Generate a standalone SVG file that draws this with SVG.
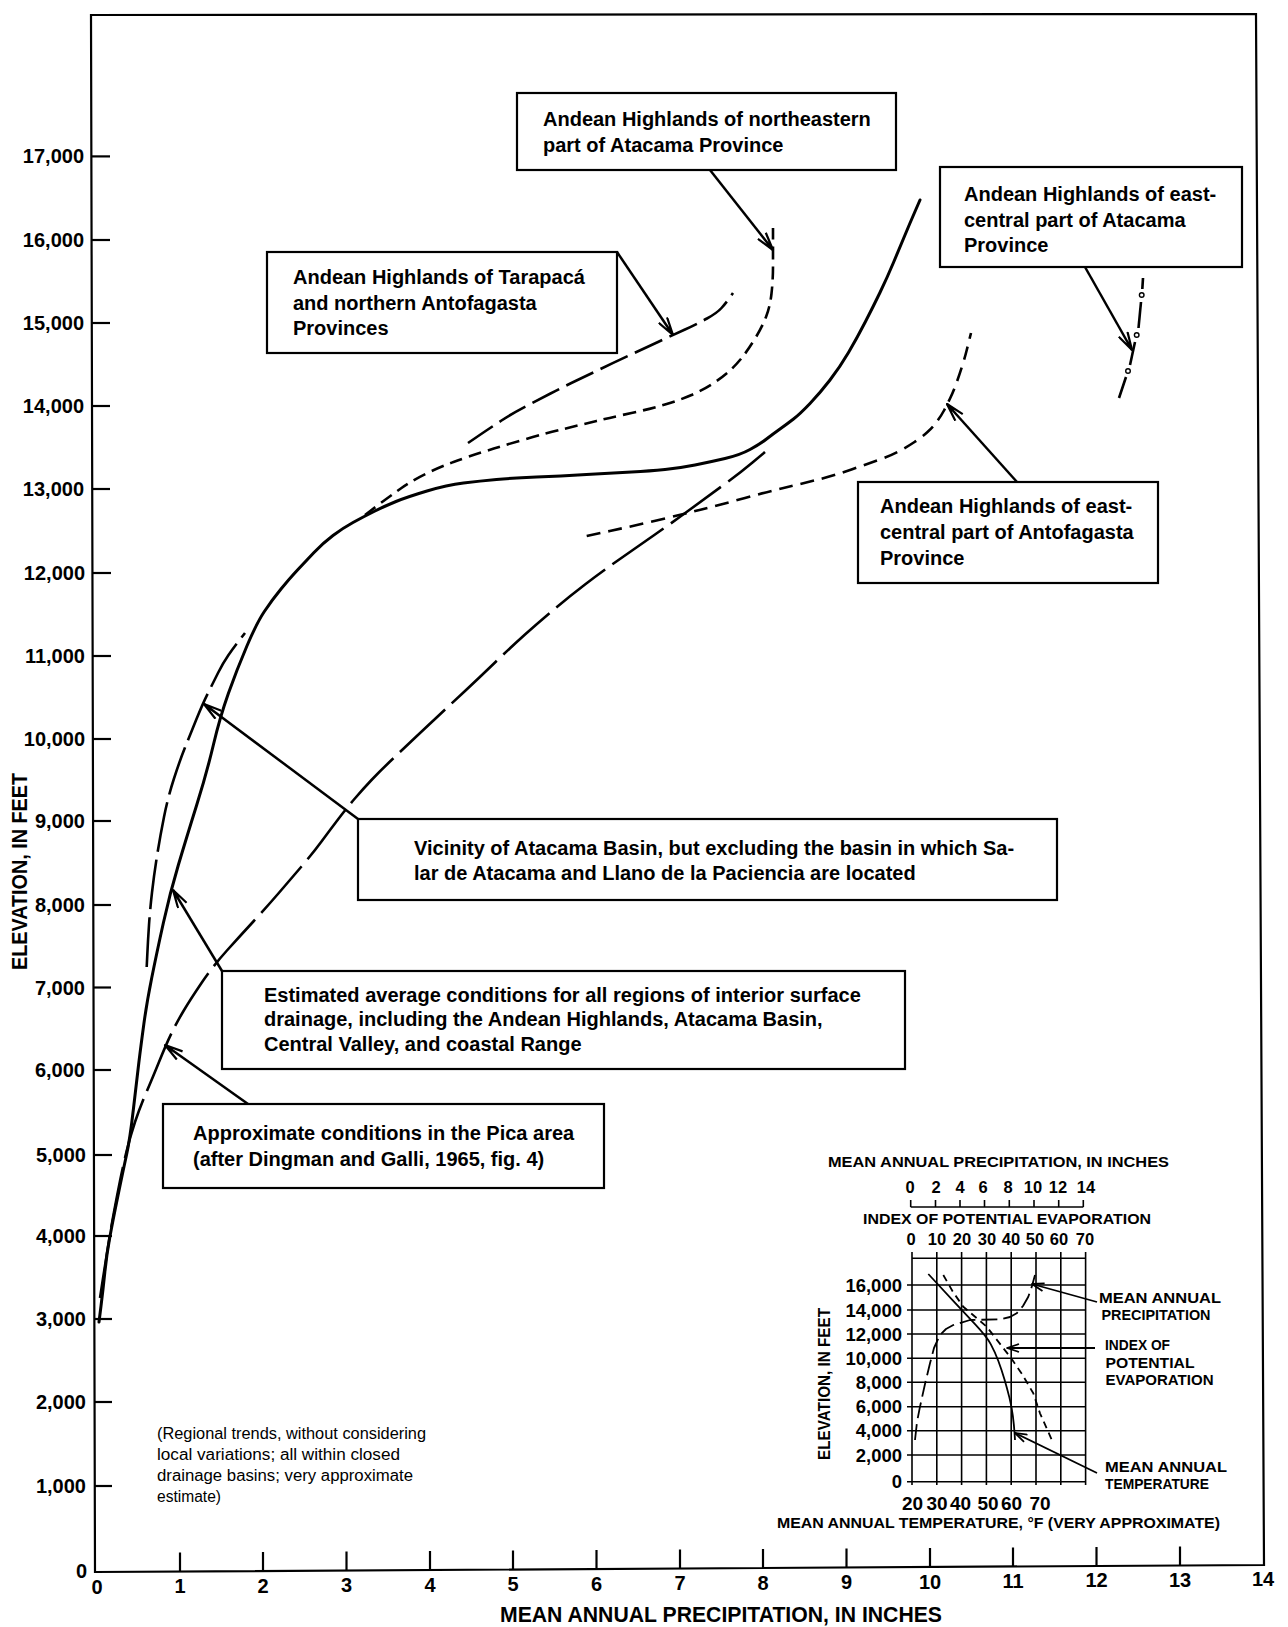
<svg xmlns="http://www.w3.org/2000/svg" width="1288" height="1627" viewBox="0 0 1288 1627">
<style>
.t{font-family:"Liberation Sans",Arial,sans-serif;font-weight:bold;fill:#000}
.b20{font-size:20px}
.n{font-family:"Liberation Sans",Arial,sans-serif;font-weight:normal;font-size:16px;fill:#000}
.box{fill:none;stroke:#000;stroke-width:2.2}
.ax{fill:none;stroke:#000;stroke-width:2.2}
.tick{stroke:#000;stroke-width:2.2}
.solid{fill:none;stroke:#000;stroke-width:3;stroke-linejoin:round;stroke-linecap:round}
.dash{fill:none;stroke:#000;stroke-width:2.6;stroke-linejoin:round}
.arr{fill:none;stroke:#000;stroke-width:2.5;marker-end:url(#ah)}
.iarr{fill:none;stroke:#000;stroke-width:1.8;marker-end:url(#ahs)}
.grid{stroke:#000;stroke-width:1.6}
.ic{fill:none;stroke:#000;stroke-width:1.8;stroke-linejoin:round}
</style>
<defs>
<marker id="ah" viewBox="0 0 20 12" refX="19" refY="6" markerWidth="20" markerHeight="12" markerUnits="userSpaceOnUse" orient="auto">
<path d="M1,1 L19,6 L1,11" fill="none" stroke="#000" stroke-width="2.2" stroke-linejoin="round"/>
<path d="M19,6 L9,3.6 L11,6 L9,8.4 Z" fill="#000"/>
</marker>
<marker id="ahs" viewBox="0 0 14 10" refX="13" refY="5" markerWidth="14" markerHeight="10" markerUnits="userSpaceOnUse" orient="auto">
<path d="M1,1 L13,5 L1,9" fill="none" stroke="#000" stroke-width="1.8" stroke-linejoin="round"/>
</marker>
</defs>
<rect width="1288" height="1627" fill="#fff"/>

<g id="frame">
<path class="ax" d="M91,15 L1256,14 L1264,1565 L95,1572 Z"/>
</g>

<g id="y-axis">
<g class="tick">
<line x1="94" y1="1486" x2="112" y2="1486"/>
<line x1="94" y1="1402" x2="112" y2="1402"/>
<line x1="94" y1="1319" x2="112" y2="1319"/>
<line x1="94" y1="1236" x2="112" y2="1236"/>
<line x1="94" y1="1155" x2="112" y2="1155"/>
<line x1="93" y1="1070" x2="111" y2="1070"/>
<line x1="93" y1="987.5" x2="111" y2="987.5"/>
<line x1="93" y1="905" x2="111" y2="905"/>
<line x1="93" y1="821" x2="111" y2="821"/>
<line x1="93" y1="739" x2="111" y2="739"/>
<line x1="93" y1="656" x2="111" y2="656"/>
<line x1="93" y1="573" x2="111" y2="573"/>
<line x1="92" y1="489" x2="110" y2="489"/>
<line x1="92" y1="406" x2="110" y2="406"/>
<line x1="92" y1="323" x2="110" y2="323"/>
<line x1="92" y1="240" x2="110" y2="240"/>
<line x1="92" y1="156.4" x2="110" y2="156.4"/>
</g>
<g class="t b20" text-anchor="end">
<text x="87" y="1578">0</text>
<text x="86" y="1493">1,000</text>
<text x="86" y="1409">2,000</text>
<text x="86" y="1326">3,000</text>
<text x="86" y="1243">4,000</text>
<text x="86" y="1162">5,000</text>
<text x="85" y="1077">6,000</text>
<text x="85" y="994.5">7,000</text>
<text x="85" y="912">8,000</text>
<text x="85" y="828">9,000</text>
<text x="85" y="746">10,000</text>
<text x="85" y="663">11,000</text>
<text x="85" y="580">12,000</text>
<text x="84" y="496">13,000</text>
<text x="84" y="413">14,000</text>
<text x="84" y="330">15,000</text>
<text x="84" y="247">16,000</text>
<text x="84" y="163.4">17,000</text>
</g>
<text class="t" font-size="22" transform="translate(27,970) rotate(-90)" textLength="197" lengthAdjust="spacingAndGlyphs">ELEVATION, IN FEET</text>
</g>

<g id="x-axis">
<g class="tick">
<line x1="180" y1="1571.5" x2="180" y2="1552.5"/>
<line x1="263" y1="1571" x2="263" y2="1552"/>
<line x1="346.5" y1="1570.5" x2="346.5" y2="1551.5"/>
<line x1="430" y1="1570" x2="430" y2="1551"/>
<line x1="513" y1="1569.5" x2="513" y2="1550.5"/>
<line x1="596.5" y1="1569" x2="596.5" y2="1550"/>
<line x1="680" y1="1568.5" x2="680" y2="1549.5"/>
<line x1="763" y1="1568" x2="763" y2="1549"/>
<line x1="846.5" y1="1567.5" x2="846.5" y2="1548.5"/>
<line x1="930" y1="1567" x2="930" y2="1548"/>
<line x1="1013" y1="1566.5" x2="1013" y2="1547.5"/>
<line x1="1096.5" y1="1566" x2="1096.5" y2="1547"/>
<line x1="1180" y1="1565.5" x2="1180" y2="1546.5"/>
</g>
<g class="t b20" text-anchor="middle">
<text x="97" y="1594">0</text>
<text x="180" y="1593">1</text>
<text x="263" y="1592.5">2</text>
<text x="346.5" y="1592">3</text>
<text x="430" y="1591.5">4</text>
<text x="513" y="1591">5</text>
<text x="596.5" y="1590.5">6</text>
<text x="680" y="1590">7</text>
<text x="763" y="1589.5">8</text>
<text x="846.5" y="1589">9</text>
<text x="930" y="1588.5">10</text>
<text x="1013" y="1588">11</text>
<text x="1096.5" y="1587">12</text>
<text x="1180" y="1586.5">13</text>
<text x="1263" y="1585.5">14</text>
</g>
<text class="t" font-size="22" x="500" y="1622" textLength="442" lengthAdjust="spacingAndGlyphs">MEAN  ANNUAL  PRECIPITATION,  IN  INCHES</text>
</g>

<g id="curves">
<path id="curve-estimated" class="solid" d="M99,1322 L101,1306 Q103,1290 104.85,1272 Q106.7,1254 109.85,1237 Q113,1220 118,1195.5 Q123,1171 126.5,1155 Q130,1139 133.35,1109.5 Q136.7,1080 138.85,1062.5 Q141,1045 143.85,1024 Q146.7,1003 151.7,978 Q156.7,953 163.35,923 Q170,893 178.35,865 Q186.7,837 196.7,805 Q206.7,773 213.35,745 Q220,717 228.35,693.5 Q236.7,670 246.7,646.5 Q256.7,623 264.35,611.5 Q272,600 281,589 Q290,578 297.5,570 Q305,562 314,552.5 Q323,543 333,535.5 Q343,528 353,522.5 Q363,517 374,511.5 Q385,506 396,501.5 Q407,497 427,491 Q447,485 463.5,483 Q480,481 496.5,479.5 Q513,478 536.5,477 Q560,476 586.5,474.5 Q613,473 631.5,472 Q650,471 665,469.5 Q680,468 695,465 Q710,462 725,458.5 Q740,455 750,449.5 Q760,444 766.5,439 Q773,434 780,429 Q787,424 793.5,419 Q800,414 810,403.5 Q820,393 830,380 Q840,367 848.5,352.5 Q857,338 865,322.5 Q873,307 880,292.5 Q887,278 893.5,262.5 Q900,247 905,235 Q910,223 915,211.5 L920,200"/>
<path id="curve-vicinity" class="dash" stroke-dasharray="50 8" d="M146.7,967 L147.35,953.5 Q148,940 149,925 Q150,910 152,892.5 Q154,875 157,856 Q160,837 164,817 Q168,797 174,778.5 Q180,760 185,747.5 Q190,735 196.5,719 Q203,703 208,693 Q213,683 218,673 Q223,663 228.5,655 Q234,647 239.5,640 L245,633"/>
<path id="curve-pica" class="dash" stroke-dasharray="62 9" d="M100,1298 L102.75,1280 Q105.5,1262 108.25,1245 Q111,1228 114,1212 Q117,1196 120,1181 Q123,1166 126.5,1151.5 Q130,1137 135,1122 Q140,1107 145.85,1093.5 Q151.7,1080 159.2,1061.5 Q166.7,1043 171.85,1032.5 Q177,1022 183.5,1011 Q190,1000 201.5,983 Q213,966 226.5,951 Q240,936 253.35,921.5 Q266.7,907 278.35,893.5 Q290,880 301.5,866.5 Q313,853 321.5,841.5 Q330,830 338.35,819 Q346.7,808 354.85,798.5 Q363,789 371.5,780 Q380,771 390,761.5 Q400,752 410,742.5 Q420,733 435,719 Q450,705 465,691 Q480,677 495,662.5 Q510,648 525,634.5 Q540,621 555,608.5 Q570,596 585,584.5 Q600,573 618.5,560 Q637,547 655,534.5 Q673,522 690,509.5 Q707,497 723.5,485 Q740,473 752.5,462.5 L765,452"/>
<path id="curve-ne-atacama" class="dash" stroke-dasharray="13 7" d="M365,515 L377.5,505.5 Q390,496 401.5,488 Q413,480 426.5,473.5 Q440,467 453.5,462 Q467,457 486,451 Q505,445 526,439 Q547,433 563.5,429 Q580,425 596.5,421 Q613,417 631.5,413 Q650,409 665,404.5 Q680,400 691.5,395 Q703,390 713,383.5 Q723,377 730.5,370 Q738,363 744,355 Q750,347 756,337 Q762,327 766,317 Q770,307 771.5,293.5 Q773,280 773,266.5 L773,228"/>
<path id="curve-tarapaca" class="dash" stroke-dasharray="30 8" d="M468,443 L479,435.5 Q490,428 501.5,420.5 Q513,413 525.5,406.5 Q538,400 550.5,393.5 Q563,387 575.5,381 Q588,375 600.5,369 Q613,363 628,356 Q643,349 658,342 Q673,335 685,329.5 Q697,324 707,318.5 Q717,313 721.5,308 Q726,303 729.5,298 L733,293"/>
<path id="curve-antofagasta" class="dash" stroke-dasharray="14 8" d="M586.7,536 L609.85,531 Q633,526 656.5,520.5 Q680,515 701.5,509.5 Q723,504 745,498 Q767,492 783.5,488 Q800,484 816.5,480 Q833,476 851.5,469.5 Q870,463 880,459.5 Q890,456 898.5,451.5 Q907,447 914.5,442 Q922,437 927.5,432 Q933,427 937,421.5 Q941,416 944,410.5 Q947,405 950.5,397.5 Q954,390 957,381.5 Q960,373 962.5,365 Q965,357 966.5,351 Q968,345 969.5,339 L971,333"/>
<g id="curve-ec-atacama" stroke="#000" stroke-width="2.6" fill="none">
<line x1="1143" y1="278" x2="1142.3" y2="289"/>
<circle cx="1141.7" cy="295" r="2.3" stroke-width="1.4"/>
<line x1="1141" y1="302" x2="1138.5" y2="328"/>
<circle cx="1136.7" cy="335" r="2.3" stroke-width="1.4"/>
<line x1="1135" y1="342" x2="1130" y2="365"/>
<circle cx="1128" cy="371" r="2.3" stroke-width="1.4"/>
<line x1="1126" y1="377" x2="1119" y2="398"/>
</g>
</g>

<g id="connectors">
<line class="arr" x1="710" y1="170" x2="773" y2="250"/>
<line class="arr" x1="617" y1="252" x2="673" y2="335"/>
<line class="arr" x1="1085" y1="267" x2="1132" y2="350"/>
<line class="arr" x1="1017" y1="482" x2="947" y2="404"/>
<line class="arr" x1="358" y1="819" x2="204" y2="704"/>
<line class="arr" x1="222" y1="971" x2="173" y2="890"/>
<line class="arr" x1="248" y1="1104" x2="165" y2="1045"/>
</g>

<g id="box-ne-atacama">
<rect class="box" x="517" y="93" width="379" height="77"/>
<text class="t b20" x="543" y="126">Andean Highlands of northeastern</text>
<text class="t b20" x="543" y="152">part of Atacama Province</text>
</g>
<g id="box-tarapaca">
<rect class="box" x="267" y="252" width="350" height="101"/>
<text class="t b20" x="293" y="284">Andean Highlands of Tarapacá</text>
<text class="t b20" x="293" y="310">and northern Antofagasta</text>
<text class="t b20" x="293" y="335">Provinces</text>
</g>
<g id="box-ec-atacama">
<rect class="box" x="940" y="167" width="302" height="100"/>
<text class="t b20" x="964" y="201">Andean Highlands of east-</text>
<text class="t b20" x="964" y="227">central part of Atacama</text>
<text class="t b20" x="964" y="252">Province</text>
</g>
<g id="box-ec-antofagasta">
<rect class="box" x="858" y="482" width="300" height="101"/>
<text class="t b20" x="880" y="513">Andean Highlands of east-</text>
<text class="t b20" x="880" y="539">central part of Antofagasta</text>
<text class="t b20" x="880" y="565">Province</text>
</g>
<g id="box-vicinity">
<rect class="box" x="358" y="819" width="699" height="81"/>
<text class="t b20" x="414" y="855">Vicinity of Atacama Basin, but excluding the basin in which Sa-</text>
<text class="t b20" x="414" y="880">lar de Atacama and Llano de la Paciencia are located</text>
</g>
<g id="box-estimated">
<rect class="box" x="222" y="971" width="683" height="98"/>
<text class="t b20" x="264" y="1002">Estimated average conditions for all regions of interior surface</text>
<text class="t b20" x="264" y="1026">drainage, including the Andean Highlands, Atacama Basin,</text>
<text class="t b20" x="264" y="1051">Central Valley, and coastal Range</text>
</g>
<g id="box-pica">
<rect class="box" x="163" y="1104" width="441" height="84"/>
<text class="t b20" x="193" y="1140">Approximate conditions in the Pica area</text>
<text class="t b20" x="193" y="1166">(after Dingman and Galli, 1965, fig. 4)</text>
</g>

<g id="note">
<text class="n" x="157" y="1439" textLength="269" lengthAdjust="spacingAndGlyphs">(Regional trends, without considering</text>
<text class="n" x="157" y="1460" textLength="243" lengthAdjust="spacingAndGlyphs">local variations; all within closed</text>
<text class="n" x="157" y="1481" textLength="256" lengthAdjust="spacingAndGlyphs">drainage basins; very approximate</text>
<text class="n" x="157" y="1502" textLength="64" lengthAdjust="spacingAndGlyphs">estimate)</text>
</g>

<g id="inset">
<text class="t" font-size="15.5" x="828" y="1167" textLength="341" lengthAdjust="spacingAndGlyphs">MEAN  ANNUAL  PRECIPITATION,  IN  INCHES</text>
<g class="t" font-size="16.5" text-anchor="middle">
<text x="910" y="1193">0</text><text x="936" y="1193">2</text><text x="960" y="1193">4</text><text x="983" y="1193">6</text><text x="1008" y="1193">8</text><text x="1033" y="1193">10</text><text x="1058" y="1193">12</text><text x="1086" y="1193">14</text>
</g>
<g class="grid">
<line x1="910.7" y1="1207" x2="1083.3" y2="1207"/>
<line x1="910.7" y1="1207" x2="910.7" y2="1200"/>
<line x1="935.5" y1="1207" x2="935.5" y2="1200"/>
<line x1="960" y1="1207" x2="960" y2="1200"/>
<line x1="984.5" y1="1207" x2="984.5" y2="1200"/>
<line x1="1009.3" y1="1207" x2="1009.3" y2="1200"/>
<line x1="1034" y1="1207" x2="1034" y2="1200"/>
<line x1="1058.7" y1="1207" x2="1058.7" y2="1200"/>
<line x1="1083.3" y1="1207" x2="1083.3" y2="1200"/>
</g>
<text class="t" font-size="15.5" x="863" y="1224" textLength="288" lengthAdjust="spacingAndGlyphs">INDEX  OF  POTENTIAL  EVAPORATION</text>
<g class="t" font-size="16.5" text-anchor="middle">
<text x="911" y="1245">0</text><text x="937" y="1245">10</text><text x="962" y="1245">20</text><text x="987" y="1245">30</text><text x="1011" y="1245">40</text><text x="1035" y="1245">50</text><text x="1059" y="1245">60</text><text x="1085" y="1245">70</text>
</g>
<g class="grid">
<line x1="912" y1="1252" x2="912" y2="1485"/>
<line x1="936.8" y1="1252" x2="936.8" y2="1485"/>
<line x1="961.6" y1="1252" x2="961.6" y2="1485"/>
<line x1="986.4" y1="1252" x2="986.4" y2="1485"/>
<line x1="1011.2" y1="1252" x2="1011.2" y2="1485"/>
<line x1="1036" y1="1252" x2="1036" y2="1485"/>
<line x1="1060.8" y1="1252" x2="1060.8" y2="1485"/>
<line x1="1085.6" y1="1252" x2="1085.6" y2="1485"/>
<line x1="912" y1="1258.3" x2="1086" y2="1258.3"/>
<line x1="907" y1="1285" x2="1086" y2="1285"/>
<line x1="907" y1="1310" x2="1086" y2="1310"/>
<line x1="907" y1="1334" x2="1086" y2="1334"/>
<line x1="907" y1="1358.3" x2="1086" y2="1358.3"/>
<line x1="907" y1="1382.3" x2="1086" y2="1382.3"/>
<line x1="907" y1="1406.7" x2="1086" y2="1406.7"/>
<line x1="907" y1="1430.7" x2="1086" y2="1430.7"/>
<line x1="907" y1="1455" x2="1086" y2="1455"/>
<line x1="907" y1="1481.7" x2="1086" y2="1481.7"/>
</g>
<g class="t" font-size="18.5" text-anchor="end">
<text x="902" y="1291.5">16,000</text>
<text x="902" y="1316.5">14,000</text>
<text x="902" y="1340.5">12,000</text>
<text x="902" y="1364.8">10,000</text>
<text x="902" y="1388.8">8,000</text>
<text x="902" y="1413.2">6,000</text>
<text x="902" y="1437.2">4,000</text>
<text x="902" y="1461.5">2,000</text>
<text x="902" y="1488.2">0</text>
</g>
<text class="t" font-size="16" transform="translate(830,1460) rotate(-90)" textLength="152" lengthAdjust="spacingAndGlyphs">ELEVATION,  IN  FEET</text>
<g class="t" font-size="19" text-anchor="middle">
<text x="912.5" y="1510">20</text><text x="937" y="1510">30</text><text x="960.5" y="1510">40</text><text x="988" y="1510">50</text><text x="1011.5" y="1510">60</text><text x="1040" y="1510">70</text>
</g>
<text class="t" font-size="15.5" x="777" y="1528" textLength="443" lengthAdjust="spacingAndGlyphs">MEAN  ANNUAL  TEMPERATURE,  °F  (VERY  APPROXIMATE)</text>
<path id="inset-temp" class="ic" d="M928.3,1274 L936.65,1283 Q945,1292 954.15,1301.85 Q963.3,1311.7 975,1324.2 Q986.7,1336.7 990.85,1344.35 Q995,1352 998.35,1361 Q1001.7,1370 1004.35,1379 Q1007,1388 1009.35,1397.35 Q1011.7,1406.7 1012.85,1415.85 Q1014,1425 1014.5,1432.5 L1015,1440"/>
<polyline id="inset-evap" class="ic" stroke-dasharray="7 5" points="943.3,1275 953,1292 963.3,1306.7 986.7,1326.7 1010,1356.7 1022,1374 1033.3,1393.3 1040,1413.3 1047,1429 1053.3,1443.3"/>
<polyline id="inset-precip" class="ic" stroke-dasharray="16 6" points="915,1440 917,1422 920,1406.7 925,1384 930,1363.3 934,1348 940,1335 946,1329 953.3,1325 970,1320 1000,1319.3 1010,1317 1016.7,1313.3 1023,1306 1028.3,1296.7 1032,1286 1035,1275"/>
<g id="inset-connectors">
<line class="iarr" x1="1097" y1="1302" x2="1032" y2="1284"/>
<line class="iarr" x1="1095" y1="1348" x2="1007" y2="1348"/>
<line class="iarr" x1="1097" y1="1473" x2="1015" y2="1433"/>
</g>
<g class="t" font-size="15.5">
<text x="1099" y="1303" textLength="122" lengthAdjust="spacingAndGlyphs">MEAN  ANNUAL</text>
<text x="1101.5" y="1320" textLength="109" lengthAdjust="spacingAndGlyphs">PRECIPITATION</text>
<text x="1105" y="1350" textLength="65" lengthAdjust="spacingAndGlyphs">INDEX  OF</text>
<text x="1105.5" y="1367.5" textLength="89" lengthAdjust="spacingAndGlyphs">POTENTIAL</text>
<text x="1105.5" y="1385" textLength="108" lengthAdjust="spacingAndGlyphs">EVAPORATION</text>
<text x="1105" y="1472" textLength="122" lengthAdjust="spacingAndGlyphs">MEAN  ANNUAL</text>
<text x="1105" y="1488.5" textLength="104" lengthAdjust="spacingAndGlyphs">TEMPERATURE</text>
</g>
</g>
</svg>
